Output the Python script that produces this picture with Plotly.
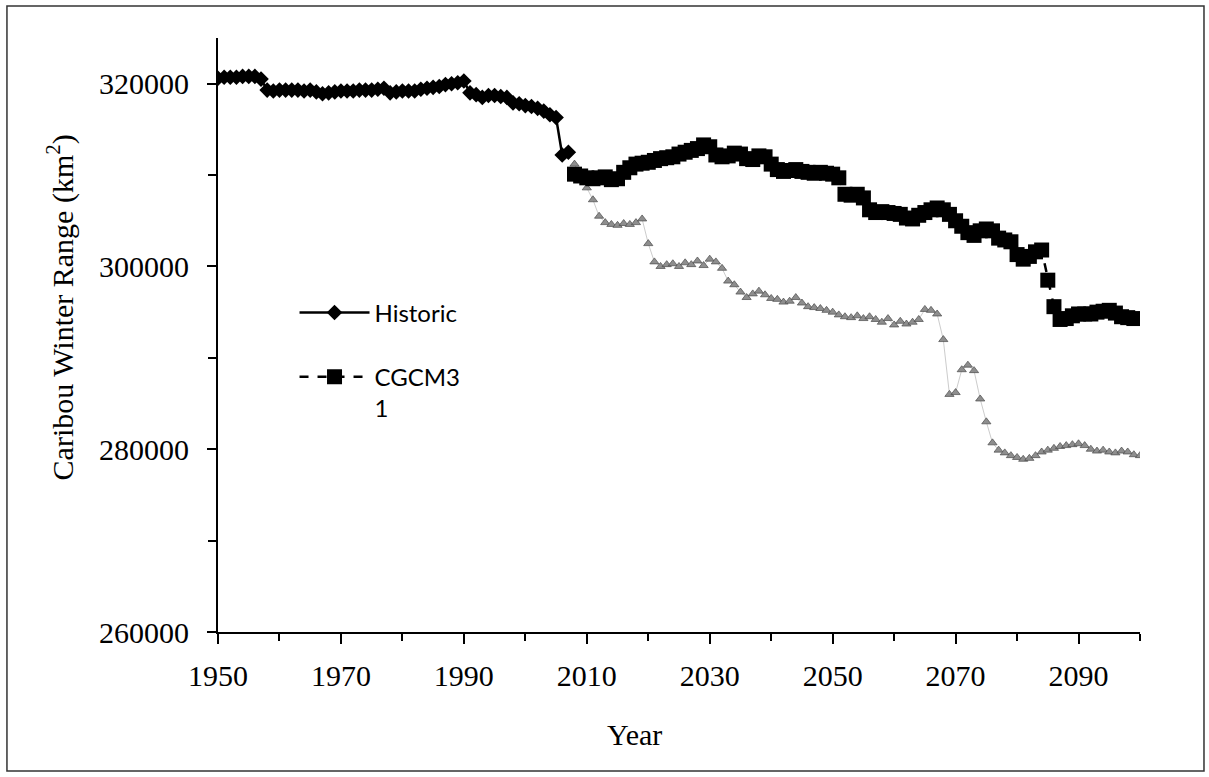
import plotly.graph_objects as go

# Historic observed winter range, 1950-2007
hist_years = list(range(1950, 2008))
hist_range = [
    320600, 320700, 320700, 320700, 320800, 320800, 320800, 320500, 319300, 319200,
    319300, 319300, 319300, 319300, 319200, 319300, 319100, 318900, 319000, 319100,
    319200, 319200, 319200, 319300, 319300, 319300, 319400, 319500, 319000, 319100,
    319200, 319200, 319200, 319400, 319500, 319600, 319700, 319900, 320000, 320100,
    320300, 319000, 318800, 318500, 318700, 318700, 318600, 318500, 317900, 317800,
    317600, 317500, 317300, 317000, 316600, 316300, 312200, 312500,
]

# CGCM3 projection (scenario 1), 2008-2099
cgcm_years = list(range(2008, 2100))
cgcm_range = [
    310100, 309900, 309700, 309600, 309700, 309800, 309500, 309600, 310300, 310800,
    311200, 311300, 311400, 311600, 311800, 311900, 312000, 312300, 312500, 312700,
    312900, 313300, 313100, 312200, 312000, 312100, 312400, 312300, 311800, 311700,
    312100, 312000, 311200, 310600, 310400, 310500, 310600, 310400, 310300, 310200,
    310300, 310200, 310100, 309700, 307900, 307800, 307900, 307500, 306200, 305900,
    306000, 305900, 305800, 305700, 305300, 305200, 305600, 305900, 306200, 306400,
    306200, 305700, 305000, 304400, 303700, 303400, 303900, 304100, 303900, 303100,
    302900, 302700, 301300, 300800, 301100, 301600, 301800, 298500, 295600, 294200,
    294300, 294600, 294800, 294800, 294800, 295000, 295100, 295200, 294900, 294500,
    294400, 294300,
]

# Second projection (grey), 2008-2100
alt_years = list(range(2008, 2101))
alt_range = [
    311200, 309800, 308600, 307300, 305500, 304800, 304600, 304500, 304700, 304600,
    304800, 305200, 302500, 300500, 300000, 300200, 300300, 300000, 300400, 300200,
    300600, 300100, 300800, 300500, 299800, 298400, 298000, 297200, 296600, 297000,
    297300, 296900, 296500, 296400, 296100, 296200, 296600, 296000, 295600, 295500,
    295400, 295200, 295000, 294700, 294500, 294400, 294600, 294300, 294500, 294200,
    293900, 294300, 293600, 294000, 293700, 293900, 294200, 295300, 295200, 294800,
    292000, 286000, 286200, 288700, 289200, 288600, 285500, 283000, 280700, 279900,
    279600, 279300, 279100, 278900, 279000, 279300, 279700, 279900, 280100, 280300,
    280400, 280500, 280600, 280400, 280000, 279800, 279900, 279700, 279600, 279800,
    279700, 279400, 279300,
]

x_ticks = [1950, 1970, 1990, 2010, 2030, 2050, 2070, 2090]
y_ticks = [260000, 280000, 300000, 320000]

SERIF = "Liberation Serif, Times New Roman, serif"
SANS = "Lato, Carlito, Calibri, sans-serif"

fig = go.Figure()

fig.add_trace(go.Scatter(
    x=alt_years, y=alt_range, mode="lines+markers", showlegend=False,
    line=dict(color="#cccccc", width=1),
    marker=dict(symbol="triangle-up", size=8, color="#8e8e8e",
                line=dict(color="#4a4a4a", width=0.7)),
))

fig.add_trace(go.Scatter(
    x=hist_years, y=hist_range, mode="lines+markers", name="Historic",
    legendgroup="h",
    line=dict(color="black", width=2.5),
    marker=dict(symbol="diamond", size=12, color="black"),
))

fig.add_trace(go.Scatter(
    x=cgcm_years, y=cgcm_range, mode="lines+markers", name="CGCM3<br>1",
    legendgroup="c",
    line=dict(color="black", width=2.5, dash="dash"),
    marker=dict(symbol="square", size=15, color="black"),
))

fig.update_layout(
    width=1209, height=777,
    margin=dict(l=218, r=69, t=38, b=145),
    paper_bgcolor="white", plot_bgcolor="white",
    font=dict(family=SERIF, size=30, color="black"),
    showlegend=True,
    legend=dict(
        x=0.083, y=0.575, xanchor="left", yanchor="top",
        bgcolor="rgba(0,0,0,0)", font=dict(family=SANS, size=24, color="black"),
        itemwidth=70, tracegroupgap=30, valign="top",
    ),
    xaxis=dict(
        range=[1950, 2100], tickmode="array", tickvals=x_ticks,
        ticktext=[str(v) for v in x_ticks],
        showgrid=False, zeroline=False, showline=True, linecolor="black", linewidth=2,
        ticks="outside", ticklen=10, tickwidth=2, tickcolor="black",
        ticklabelstandoff=6,
        minor=dict(dtick=10, tick0=1950, ticks="outside", ticklen=7, tickwidth=1.5,
                   tickcolor="black", showgrid=False),
        tickfont=dict(family=SERIF, size=30),
    ),
    yaxis=dict(
        range=[260000, 325000], tickmode="array", tickvals=y_ticks,
        ticktext=[str(v) for v in y_ticks],
        showgrid=False, zeroline=False, showline=True, linecolor="black", linewidth=2,
        ticks="outside", ticklen=9, tickwidth=2, tickcolor="black",
        ticklabelstandoff=12,
        minor=dict(dtick=10000, tick0=260000, ticks="outside", ticklen=8, tickwidth=1.5,
                   tickcolor="black", showgrid=False),
        tickfont=dict(family=SERIF, size=30),
    ),
    annotations=[
        dict(text="Caribou Winter Range (km<sup>2</sup>)", xref="paper", yref="paper",
             x=-0.171, y=0.547, xanchor="center", yanchor="middle", textangle=-90,
             showarrow=False, font=dict(family=SERIF, size=30)),
        dict(text="Year", xref="paper", yref="paper",
             x=0.452, y=-0.173, xanchor="center", yanchor="middle",
             showarrow=False, font=dict(family=SERIF, size=30)),
    ],
    shapes=[
        dict(type="rect", xref="paper", yref="paper",
             x0=-0.2289, x1=1.0694, y0=-0.234, y1=1.0539,
             line=dict(color="#333333", width=1.5), fillcolor="rgba(0,0,0,0)",
             layer="below"),
    ],
)

fig.write_html("out.html")
